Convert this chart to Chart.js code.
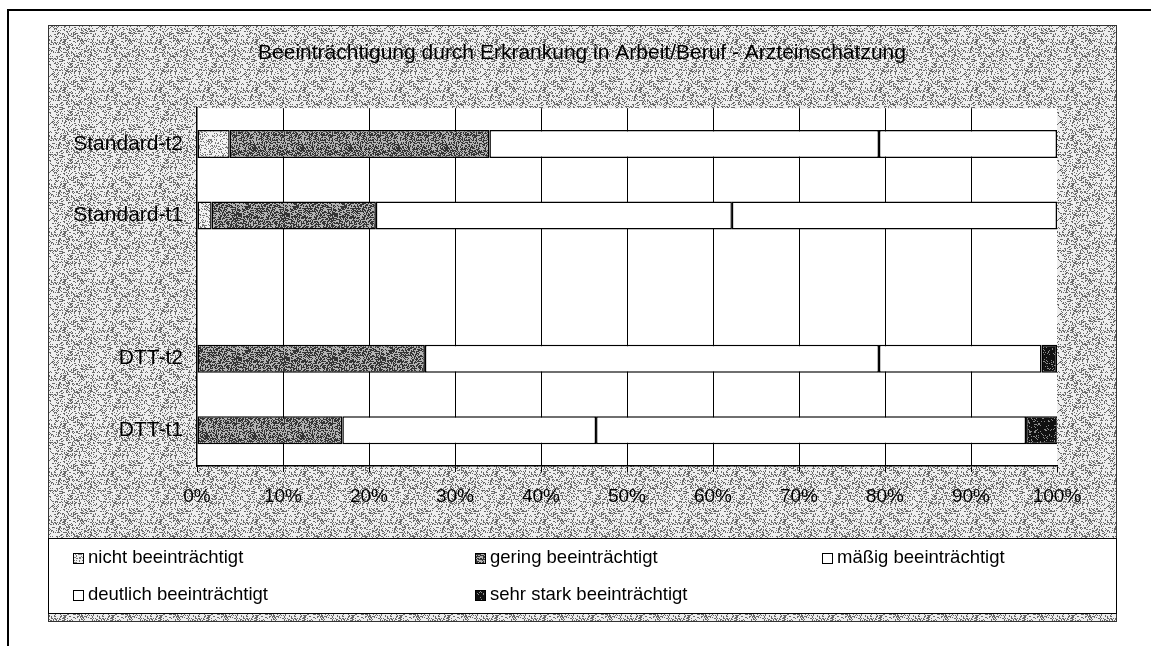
<!DOCTYPE html>
<html>
<head>
<meta charset="utf-8">
<script src="https://cdn.jsdelivr.net/npm/chart.js@4.4.1/dist/chart.umd.min.js"></script>
<style>
  body { margin: 0; background: #fff; }
  canvas { display: block; }
</style>
</head>
<body>
<canvas id="myChart" width="1151" height="646"></canvas>
<script>
// Data (percent of each group)
const categories = ["Standard-t2", "Standard-t1", "", "DTT-t2", "DTT-t1"];
const seriesNames = ["nicht beeinträchtigt", "gering beeinträchtigt", "mäßig beeinträchtigt", "deutlich beeinträchtigt", "sehr stark beeinträchtigt"];
const nicht = [3.8, 1.7, null, 0, 0];
const gering = [30.2, 19.1, null, 26.5, 16.9];
const maessig = [45.3, 41.4, null, 52.8, 29.5];
const deutlich = [20.7, 37.8, null, 18.9, 50.0];
const sehrStark = [0, 0, null, 1.8, 3.7];
const xTicks = [0, 10, 20, 30, 40, 50, 60, 70, 80, 90, 100];

const FONT = "'Liberation Sans', Arial, sans-serif";

// stipple fills, like the scanned halftone
function stipple(base, dot, p, seed) {
  const c = document.createElement("canvas");
  c.width = 48; c.height = 48;
  const g = c.getContext("2d");
  g.fillStyle = base;
  g.fillRect(0, 0, 48, 48);
  g.fillStyle = dot;
  let s = seed;
  for (let y = 0; y < 48; y++) {
    for (let x = 0; x < 48; x++) {
      s = (s * 1103515245 + 12345) % 2147483648;
      if (s / 2147483648 < p) g.fillRect(x, y, 1, 1);
    }
  }
  return document.getElementById("myChart").getContext("2d").createPattern(c, "repeat");
}

const bgFill = stipple("#eeeeee", "#6a6a6a", 0.3, 7);
const fills = [
  stipple("#f2f2f2", "#7a7a7a", 0.28, 11),
  stipple("#b4b4b4", "#343434", 0.5, 23),
  "#ffffff",
  "#ffffff",
  stipple("#111111", "#8a8a8a", 0.15, 5)
];
const values = [nicht, gering, maessig, deutlich, sehrStark];

const frame = {
  id: "frame",
  beforeDraw(chart) {
    const ctx = chart.ctx;
    const a = chart.chartArea;
    ctx.save();
    // page frame of the scan
    ctx.strokeStyle = "#000";
    ctx.lineWidth = 2;
    ctx.beginPath();
    ctx.moveTo(7, 10); ctx.lineTo(1151, 10);
    ctx.moveTo(8, 10); ctx.lineTo(8, 646);
    ctx.stroke();
    // grey chart area
    ctx.fillStyle = bgFill;
    ctx.fillRect(48, 25, 1068, 596);
    ctx.lineWidth = 1;
    ctx.strokeStyle = "#333";
    ctx.strokeRect(48.5, 25.5, 1068, 596);
    // white plot area
    ctx.fillStyle = "#fff";
    ctx.fillRect(a.left, a.top, a.right - a.left, a.bottom - a.top);
    ctx.restore();
  },
  afterDraw(chart) {
    const ctx = chart.ctx;
    ctx.save();
    // legend box
    ctx.fillStyle = "#fff";
    ctx.fillRect(48, 538, 1068, 75);
    ctx.strokeStyle = "#000";
    ctx.lineWidth = 1;
    ctx.strokeRect(48.5, 538.5, 1068, 75);
    const pos = [[73, 558], [475, 558], [822, 558], [73, 595], [475, 595]];
    ctx.font = "18.5px " + FONT;
    ctx.textBaseline = "middle";
    chart.data.datasets.forEach((ds, i) => {
      const [x, y] = pos[i];
      ctx.fillStyle = ds.backgroundColor;
      ctx.fillRect(x, y - 5, 11, 11);
      ctx.strokeStyle = "#000";
      ctx.strokeRect(x + 0.5, y - 4.5, 10, 10);
      ctx.fillStyle = "#000";
      ctx.fillText(ds.label, x + 15, y);
    });
    ctx.restore();
  }
};

const config = {
  type: "bar",
  data: {
    labels: categories,
    datasets: seriesNames.map((name, i) => ({
      label: name,
      data: values[i],
      backgroundColor: fills[i],
      borderColor: "#000",
      borderWidth: 1.5,
      borderSkipped: false,
      barPercentage: 0.49,
      categoryPercentage: 0.8
    }))
  },
  options: {
    indexAxis: "y",
    responsive: false,
    animation: false,
    layout: { padding: { left: 48, right: 35, top: 0, bottom: 130 } },
    plugins: {
      legend: { display: false },
      tooltip: { enabled: false },
      title: {
        display: true,
        text: "Beeinträchtigung durch Erkrankung in Arbeit/Beruf - Arzteinschätzung",
        color: "#000",
        font: { family: FONT, size: 21, weight: "normal" },
        padding: { top: 41, bottom: 42 }
      }
    },
    scales: {
      x: {
        stacked: true,
        min: 0,
        max: 100,
        afterFit: (s) => { s.height = 50; },
        afterBuildTicks: (s) => { s.ticks = xTicks.map(v => ({ value: v })); },
        ticks: {
          color: "#000",
          padding: 13,
          font: { family: FONT, size: 19 },
          callback: (v) => v + "%"
        },
        grid: {
          color: (c) => (c.tick && (c.tick.value === 0 || c.tick.value === 100)) ? "rgba(0,0,0,0)" : "#000",
          tickColor: "#000",
          tickLength: 6,
          lineWidth: 1
        },
        border: { color: "#000", width: 1.5 }
      },
      y: {
        stacked: true,
        afterFit: (s) => { s.width = 149; },
        ticks: {
          color: "#000",
          padding: 6,
          font: { family: FONT, size: 21 }
        },
        grid: { display: false },
        border: { color: "#000", width: 1.5 }
      },
      yR: {
        type: "category",
        position: "right",
        afterFit: (s) => { s.width = 59; },
        ticks: { display: false },
        grid: { display: false },
        border: { display: false }
      }
    }
  },
  plugins: [frame]
};

const myChart = new Chart(document.getElementById("myChart"), config);
</script>
</body>
</html>
